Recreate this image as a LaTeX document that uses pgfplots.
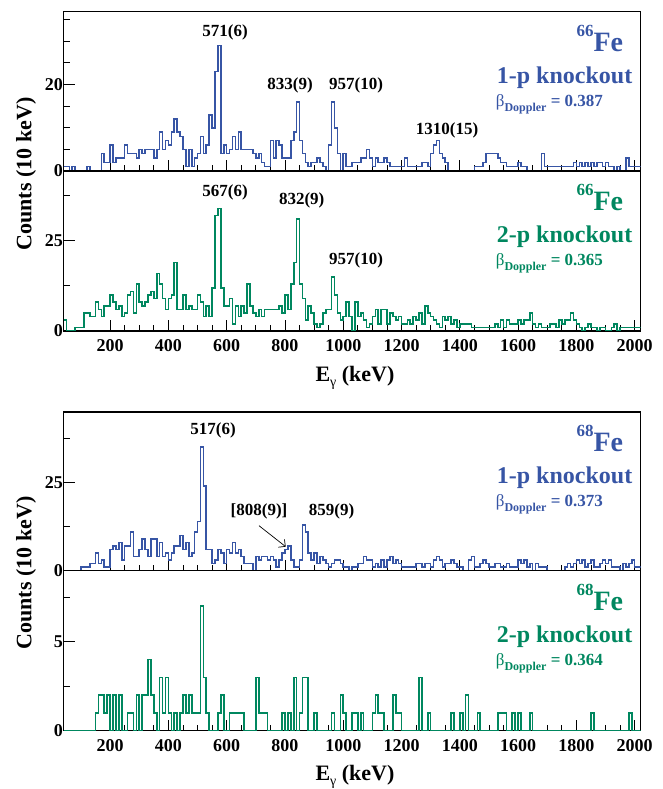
\documentclass[border=0pt]{standalone}
\usepackage{fontspec}
\setmainfont{Liberation Serif}
\usepackage{pgfplots}
\usepackage{pgfplotstable}
\pgfplotsset{compat=1.18}
\usetikzlibrary{arrows.meta}

\definecolor{knockblue}{RGB}{55,85,165}
\definecolor{knockgreen}{RGB}{0,135,95}

% 66Fe spectra, 10 keV bins (lower edge); A = 1-p knockout, B = 2-p knockout
\pgfplotstableread{
E A B
40 1 3
50 1 0
60 0 0
70 1 0
80 0 1
90 0 1
100 0 1
110 0 5
120 1 5
130 0 4
140 0 4
150 0 8
160 0 6
170 4 4
180 2 7
190 2 7
200 6 10
210 2 8
220 3 6
230 3 7
240 3 4
250 6 5
260 4 10
270 4 11
280 4 5
290 3 13
300 5 8
310 4 7
320 5 8
330 5 10
340 5 11
350 3 9
360 5 16
370 9 13
380 5 9
390 7 6
400 6 9
410 9 10
420 12 19
430 9 6
440 8 6
450 5 10
460 1 6
470 5 7
480 1 6
490 3 6
500 4 10
510 8 8
520 4 4
530 6 7
540 13 4
550 10 12
560 23 32
570 29 34
580 4 12
590 6 7
600 4 7
610 5 9
620 8 2
630 5 7
640 9 4
650 5 7
660 5 5
670 5 13
680 5 7
690 4 5
700 3 4
710 4 6
720 2 4
730 1 6
740 1 6
750 7 6
760 3 6
770 7 6
780 6 7
790 3 5
800 3 10
810 3 6
820 7 13
830 9 19
840 16 31
850 7 13
860 4 9
870 2 3
880 1 7
890 2 5
900 2 2
910 3 1
920 2 2
930 1 5
940 0 6
950 6 6
960 16 15
970 10 10
980 4 5
990 0 3
1000 4 4
1010 1 8
1020 1 4
1030 2 0
1040 2 8
1050 2 4
1060 3 5
1070 3 3
1080 5 1
1090 3 2
1100 1 4
1110 3 6
1120 2 2
1130 2 6
1140 3 6
1150 2 2
1160 1 5
1170 1 4
1180 1 3
1190 1 4
1200 1 2
1210 3 2
1220 1 3
1230 1 2
1240 1 4
1250 1 3
1260 1 5
1270 2 2
1280 2 7
1290 1 5
1300 4 4
1310 6 3
1320 7 2
1330 4 1
1340 3 4
1350 2 3
1360 0 4
1370 0 2
1380 0 3
1390 0 1
1400 0 2
1410 0 2
1420 0 2
1430 0 2
1440 0 1
1450 1 1
1460 1 1
1470 1 1
1480 2 1
1490 4 1
1500 4 1
1510 4 1
1520 4 2
1530 3 1
1540 2 3
1550 2 1
1560 1 3
1570 1 2
1580 1 2
1590 1 2
1600 2 3
1610 1 2
1620 1 3
1630 0 3
1640 0 5
1650 0 2
1660 0 1
1670 0 2
1680 4 1
1690 1 1
1700 1 1
1710 1 2
1720 1 2
1730 1 1
1740 1 3
1750 1 2
1760 1 3
1770 1 3
1780 1 5
1790 2 3
1800 1 2
1810 2 1
1820 1 0
1830 2 1
1840 1 2
1850 2 1
1860 1 1
1870 2 0
1880 2 1
1890 1 1
1900 2 0
1910 1 0
1920 1 1
1930 0 2
1940 1 0
1950 0 1
1960 0 1
1970 3 1
1980 1 1
1990 1 1
2000 1 1
2010 1 1
2020 1 1
}\feSixSix

% 68Fe spectra; C = 1-p knockout, D = 2-p knockout
\pgfplotstableread{
E C D
40 0 0
50 0 0
60 0 0
70 0 0
80 0 0
90 0 0
100 1 0
110 1 0
120 1 0
130 2 0
140 2 0
150 5 1
160 2 2
170 3 2
180 1 1
190 1 2
200 6 0
210 7 2
220 6 0
230 8 2
240 3 0
250 7 0
260 7 1
270 11 1
280 4 0
290 4 2
300 6 0
310 9 2
320 6 2
330 4 4
340 9 2
350 9 1
360 4 0
370 8 3
380 4 1
390 5 3
400 3 1
410 5 0
420 7 1
430 7 0
440 10 1
450 6 2
460 8 1
470 4 2
480 5 1
490 11 1
500 14 1
510 35 7
520 24 3
530 6 1
540 6 0
550 2 0
560 3 0
570 6 1
580 5 2
590 2 0
600 6 0
610 5 1
620 8 1
630 5 1
640 6 1
650 4 1
660 2 0
670 2 0
680 2 0
690 0 0
700 4 3
710 3 1
720 4 1
730 4 1
740 3 0
750 4 0
760 3 0
770 1 0
780 3 0
790 5 1
800 6 0
810 7 1
820 3 0
830 1 3
840 1 0
850 3 1
860 13 3
870 11 3
880 5 0
890 3 0
900 5 1
910 2 0
920 4 0
930 3 0
940 2 0
950 1 0
960 2 1
970 3 0
980 3 0
990 2 2
1000 1 1
1010 1 0
1020 0 0
1030 1 1
1040 1 1
1050 2 0
1060 2 1
1070 4 0
1080 3 0
1090 3 0
1100 1 1
1110 2 2
1120 1 1
1130 3 1
1140 1 0
1150 3 0
1160 4 0
1170 2 2
1180 3 1
1190 2 1
1200 1 0
1210 1 0
1220 1 0
1230 1 0
1240 1 0
1250 2 0
1260 2 3
1270 1 0
1280 2 0
1290 2 1
1300 1 0
1310 3 0
1320 4 0
1330 3 0
1340 1 0
1350 2 0
1360 2 0
1370 3 1
1380 2 0
1390 1 0
1400 1 1
1410 0 0
1420 0 2
1430 3 0
1440 4 0
1450 1 0
1460 1 1
1470 2 0
1480 3 0
1490 2 0
1500 1 0
1510 1 0
1520 2 0
1530 2 1
1540 1 1
1550 1 1
1560 2 0
1570 1 0
1580 1 1
1590 1 0
1600 3 1
1610 2 0
1620 3 0
1630 1 0
1640 2 1
1650 0 0
1660 2 0
1670 1 0
1680 1 0
1690 1 0
1700 0 0
1710 0 0
1720 0 0
1730 0 0
1740 0 0
1750 0 0
1760 1 0
1770 2 0
1780 1 0
1790 2 0
1800 3 0
1810 2 0
1820 3 0
1830 1 0
1840 2 0
1850 3 1
1860 1 0
1870 1 0
1880 2 0
1890 3 0
1900 2 0
1910 3 0
1920 1 0
1930 1 0
1940 1 0
1950 0 0
1960 2 0
1970 1 0
1980 2 1
1990 3 0
2000 1 0
2010 1 0
2020 1 0
}\feSixEight

\newcommand{\fs}[1]{\fontsize{#1}{#1}\selectfont}
\newcommand{\iso}[2]{\raisebox{15pt}{\fs{17}#1}{\fs{28}#2}}
\newcommand{\betaD}[1]{{\fs{17}\mdseries β}\raisebox{-5pt}{\fs{12}\bfseries Doppler}{\fs{17} = #1}}
\newcommand{\Egamma}{E\raisebox{-5pt}{\fs{14}\mdseries γ} (keV)}

\pgfplotsset{
  panel/.style={
    scale only axis, width=577pt, anchor=south west,
    xmin=40, xmax=2020, ymin=0,
    xtick={200,400,...,2000}, minor x tick num=3,
    tick pos=left, tick align=inside,
    major tick length=11pt, minor tick length=6pt,
    tick style={black, line width=0.9pt},
    axis line style={line width=1.1pt},
    /pgf/number format/assume math mode=true,
    /pgf/number format/1000 sep={},
    tick label style={font=\fs{18}},
    xticklabel={\textbf{\pgfmathprintnumber{\tick}}},
    yticklabel={\textbf{\pgfmathprintnumber{\tick}}},
    xticklabel style={yshift=-5pt},
    yticklabel style={xshift=3pt},
  },
  hist/.style={const plot, line width=1.6pt, no markers},
}

\begin{document}
\begin{tikzpicture}
\path[use as bounding box] (0,0) rectangle (662pt,789pt);

% 66Fe, 1-p knockout
\begin{axis}[panel, at={(63.5pt,618pt)}, height=159.3pt, ymax=36.8,
  xticklabel=\empty, ytick={0,20}, minor ytick={5,10,15,25,30,35}]
\addplot[hist, knockblue] table[x=E, y=A] {\feSixSix};
\end{axis}

% 66Fe, 2-p knockout
\begin{axis}[panel, at={(63.5pt,458pt)}, height=160pt, ymax=44.4,
  ytick={0,25}, minor ytick={12.5,37.5}]
\addplot[hist, knockgreen] table[x=E, y=B] {\feSixSix};
\end{axis}

% 68Fe, 1-p knockout
\begin{axis}[panel, at={(63.5pt,218.3pt)}, height=158.7pt, ymax=45,
  xticklabel=\empty, ytick={0,25}, minor ytick={12.5,37.5}]
\addplot[hist, knockblue] table[x=E, y=C] {\feSixEight};
\end{axis}

% 68Fe, 2-p knockout
\begin{axis}[panel, at={(63.5pt,58.3pt)}, height=160pt, ymax=9.0,
  ytick={0,5}, minor ytick={2.5,7.5}]
\addplot[hist, knockgreen] table[x=E, y=D] {\feSixEight};
\end{axis}

% peak labels
\begin{scope}[every node/.style={font=\fs{17}\bfseries, inner sep=0}]
\node at (225pt,756.5pt) {571(6)};
\node at (290pt,704pt) {833(9)};
\node at (356pt,704pt) {957(10)};
\node at (447pt,659pt) {1310(15)};
\node at (225pt,596.5pt) {567(6)};
\node at (301.7pt,589pt) {832(9)};
\node at (356pt,529pt) {957(10)};
\node at (213pt,359pt) {517(6)};
\node at (259pt,278pt) {[808(9)]};
\node at (331.5pt,278pt) {859(9)};
\end{scope}
\draw[-{Straight Barb[length=5pt]}, line width=0.7pt] (259pt,263.3pt) -- (285.7pt,242.3pt);

% reaction labels
\begin{scope}[every node/.style={font=\bfseries, inner sep=0}]
\node[anchor=base east, text=knockblue] at (623.3pt,737.3pt) {\iso{66}{Fe}};
\node[anchor=base west, text=knockblue] at (496.7pt,705.8pt) {\fs{24}1-p knockout};
\node[anchor=base west, text=knockblue] at (495.7pt,682.3pt) {\betaD{0.387}};

\node[anchor=base east, text=knockgreen] at (623.3pt,578pt) {\iso{66}{Fe}};
\node[anchor=base west, text=knockgreen] at (496.7pt,546.5pt) {\fs{24}2-p knockout};
\node[anchor=base west, text=knockgreen] at (495.7pt,523pt) {\betaD{0.365}};

\node[anchor=base east, text=knockblue] at (623.3pt,337pt) {\iso{68}{Fe}};
\node[anchor=base west, text=knockblue] at (496.7pt,305.5pt) {\fs{24}1-p knockout};
\node[anchor=base west, text=knockblue] at (495.7pt,282pt) {\betaD{0.373}};

\node[anchor=base east, text=knockgreen] at (623.3pt,178.3pt) {\iso{68}{Fe}};
\node[anchor=base west, text=knockgreen] at (496.7pt,146.8pt) {\fs{24}2-p knockout};
\node[anchor=base west, text=knockgreen] at (495.7pt,123.3pt) {\betaD{0.364}};
\end{scope}

% axis titles
\begin{scope}[every node/.style={font=\fs{22}\bfseries, inner sep=0}]
\node[rotate=90] at (26pt,615pt) {Counts (10 keV)};
\node[rotate=90] at (26pt,216pt) {Counts (10 keV)};
\node[anchor=base] at (355pt,407.3pt) {\Egamma};
\node[anchor=base] at (355pt,9pt) {\Egamma};
\end{scope}
\end{tikzpicture}
\end{document}
